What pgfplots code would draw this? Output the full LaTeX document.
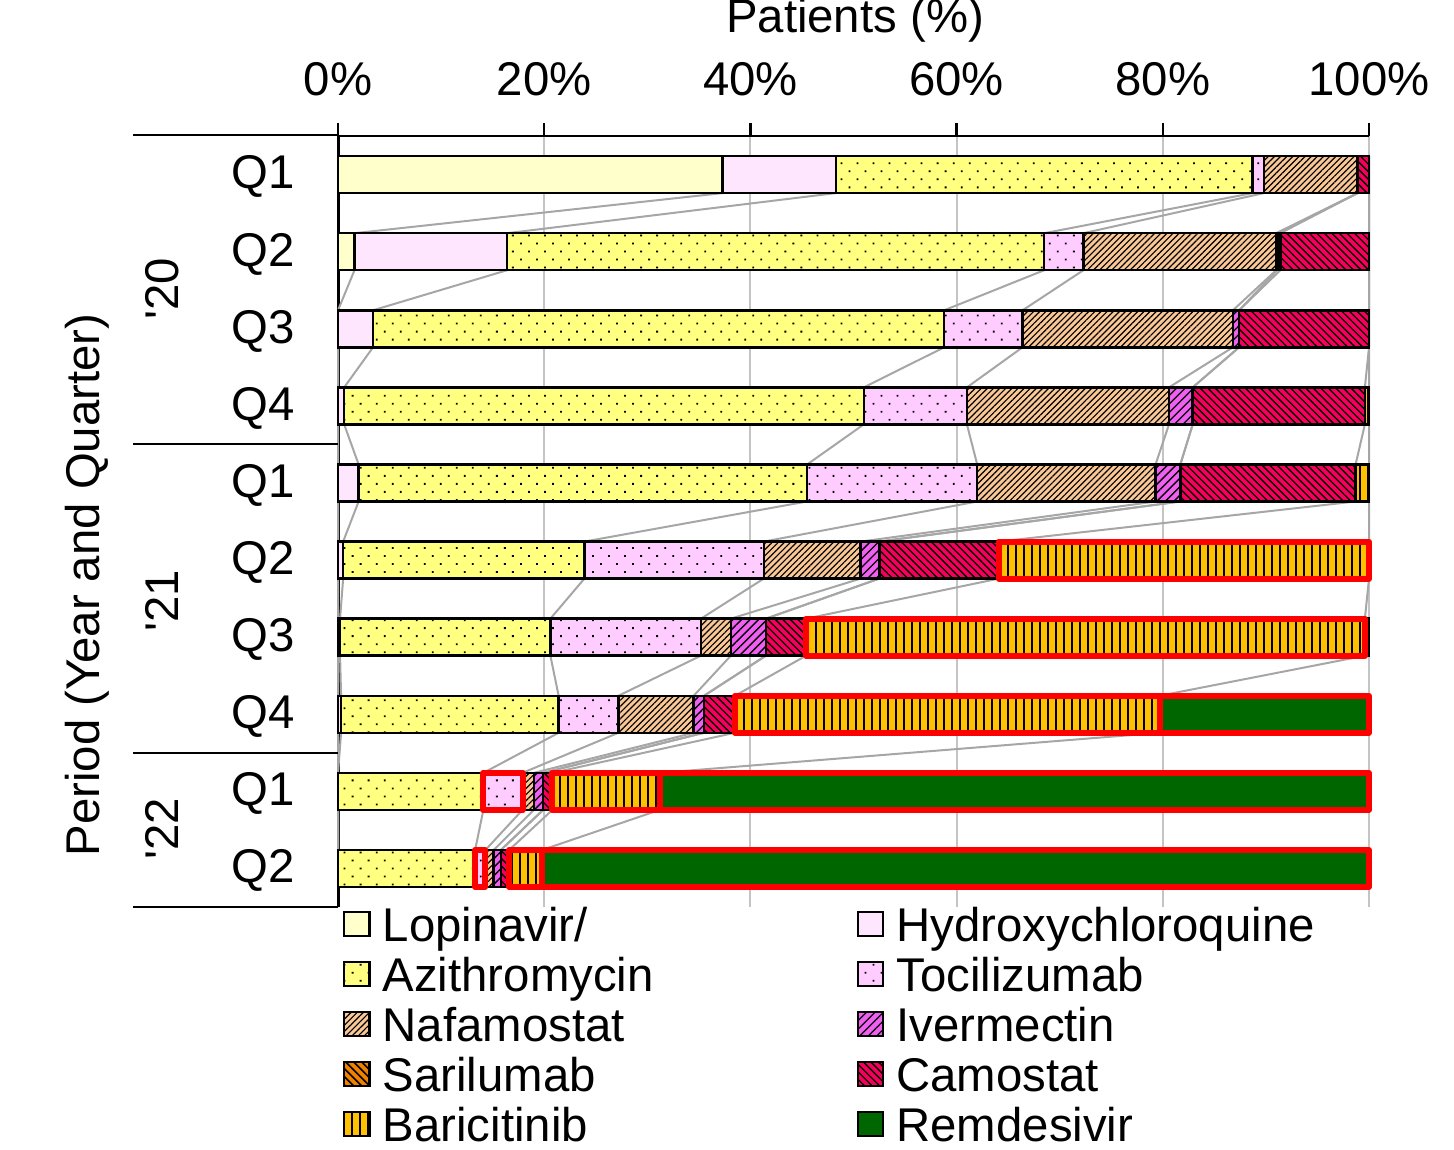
\documentclass[border=0pt]{standalone}
\usepackage{fontspec}
\setmainfont{Liberation Sans}
\usepackage{pgfplots}
\pgfplotsset{compat=1.18}
\usepackage{pgfplotstable}
\usetikzlibrary{patterns.meta}

\definecolor{lopcol}{HTML}{FFFFCC}
\definecolor{hcqcol}{HTML}{FFE6FF}
\definecolor{azicol}{HTML}{FFFF80}
\definecolor{toccol}{HTML}{FFCCFF}
\definecolor{nafcol}{HTML}{FAC896}
\definecolor{ivecol}{HTML}{F060F0}
\definecolor{sarcol}{HTML}{F08000}
\definecolor{camcol}{HTML}{F5005C}
\definecolor{barcol}{HTML}{FFC000}
\definecolor{remcol}{HTML}{006600}
\definecolor{serline}{HTML}{A6A6A6}
\definecolor{gridcol}{HTML}{C4C4C4}

% cumulative end (%) of each drug segment, per period; each period listed twice
% (top and bottom edge of its bar, for the connecting series lines)
\pgfplotstableread{
y  L    H    A    T    N    I    S    C     B     R
9  37.3 48.3 88.7 89.8 98.9 98.9 98.9 100   100   100
9  37.3 48.3 88.7 89.8 98.9 98.9 98.9 100   100   100
8  1.6  16.4 68.5 72.3 91.0 91.1 91.4 100   100   100
8  1.6  16.4 68.5 72.3 91.0 91.1 91.4 100   100   100
7  0    3.4  58.8 66.4 86.8 87.4 87.4 100   100   100
7  0    3.4  58.8 66.4 86.8 87.4 87.4 100   100   100
6  0    0.6  51.0 61.0 80.6 82.9 82.9 99.6  100   100
6  0    0.6  51.0 61.0 80.6 82.9 82.9 99.6  100   100
5  0    2.0  45.5 62.0 79.3 81.7 81.7 98.7  100   100
5  0    2.0  45.5 62.0 79.3 81.7 81.7 98.7  100   100
4  0    0.5  23.9 41.3 50.7 52.5 52.5 64.1  100   100
4  0    0.5  23.9 41.3 50.7 52.5 52.5 64.1  100   100
3  0    0.2  20.6 35.2 38.1 41.5 41.5 45.4  99.6  100
3  0    0.2  20.6 35.2 38.1 41.5 41.5 45.4  99.6  100
2  0    0.3  21.4 27.2 34.5 35.5 35.5 38.5  79.7  100
2  0    0.3  21.4 27.2 34.5 35.5 35.5 38.5  79.7  100
1  0    0    14.1 17.9 19.0 19.9 19.9 20.8  31.2  100
1  0    0    14.1 17.9 19.0 19.9 19.9 20.8  31.2  100
0  0    0    13.3 14.3 15.1 15.8 15.8 16.6  19.8  100
0  0    0    13.3 14.3 15.1 15.8 15.8 16.6  19.8  100
}\cum

\newcommand{\lblfont}{\fontsize{14.2}{17}\selectfont}
\newcommand{\edgey}{{\thisrow{y}+0.24*(1-2*mod(\coordindex,2))}}

\begin{document}
\begin{tikzpicture}[x=0.3pt,y=0.3pt]
\path[use as bounding box] (0,0) rectangle (1454,1149);

\begin{axis}[
  at={(101.4pt,72.6pt)}, anchor=south west,
  width=309.3pt, height=231.3pt, scale only axis,
  xmin=0, xmax=100, ymin=-0.5, ymax=9.5,
  clip=false,
  axis x line*=top, axis y line*=left,
  x axis line style={black, line width=0.8pt},
  y axis line style={black, line width=0.9pt},
  xtick={0,20,...,100},
  xticklabels={0\%,20\%,40\%,60\%,80\%,100\%},
  ytick={0,...,9},
  yticklabels={Q2,Q1,Q4,Q3,Q2,Q1,Q4,Q3,Q2,Q1},
  tick align=outside, major tick length=3.9pt,
  xtick style={black, line width=0.7pt},
  ytick style={draw=none},
  xticklabel style={font=\lblfont, anchor=base, inner sep=0pt, yshift=8.4pt},
  yticklabel style={font=\lblfont, anchor=base east, inner sep=0pt, xshift=-9.0pt, yshift=-4.3pt},
  xmajorgrids, grid style={draw=gridcol, line width=0.6pt},
  seg/.style={xbar, bar width=0.48, bar shift=0pt, draw=black, line width=0.75pt,
    each nth point=2, filter discard warning=false},
  sl/.style={sharp plot, no marks, draw=serline, line width=0.6pt, forget plot},
  rb/.style={sharp plot, no marks, draw=red, line width=1.8pt, line join=round, forget plot},
  legend columns=2,
  reverse legend,
  legend cell align=left,
  legend image code/.code={
    \draw[#1, line width=0.7pt] (0pt,-3.6pt) rectangle (7.6pt,3.6pt);
    \path (11.2pt,0pt);
  },
  legend style={at={(0.0048,0.0104)}, anchor=north west, draw=none, fill=none,
    inner sep=0pt, outer sep=0pt, row sep=0pt, column sep=0pt,
    font=\lblfont,
    nodes={inner sep=0pt, text width=142.2pt, align=left, text height=12.6pt, text depth=2.4pt}},
]
% series lines (drawn beneath the bars)
\addplot[sl] table[x=L, y expr=\edgey] {\cum};
\addplot[sl] table[x=H, y expr=\edgey] {\cum};
\addplot[sl] table[x=A, y expr=\edgey] {\cum};
\addplot[sl] table[x=T, y expr=\edgey] {\cum};
\addplot[sl] table[x=N, y expr=\edgey] {\cum};
\addplot[sl] table[x=I, y expr=\edgey] {\cum};
\addplot[sl] table[x=S, y expr=\edgey] {\cum};
\addplot[sl] table[x=C, y expr=\edgey] {\cum};
\addplot[sl] table[x=B, y expr=\edgey] {\cum};

% bars: each drawn from 0 to its cumulative end, largest first
\addplot[seg, fill=remcol] table[x=R, y=y] {\cum};
\addlegendentry{Remdesivir}
\addplot[seg, fill=barcol, postaction={pattern={Lines[angle=90,distance=2.4pt,line width=0.6pt]}, pattern color=black}] table[x=B, y=y] {\cum};
\addlegendentry{Baricitinib}
\addplot[seg, fill=camcol, postaction={pattern={Lines[angle=-45,distance=1.6pt,line width=0.4pt]}, pattern color=black}] table[x=C, y=y] {\cum};
\addlegendentry{Camostat}
\addplot[seg, fill=sarcol, postaction={pattern={Lines[angle=-45,distance=1.7pt,line width=0.45pt]}, pattern color=black}] table[x=S, y=y] {\cum};
\addlegendentry{Sarilumab}
\addplot[seg, fill=ivecol, postaction={pattern={Lines[angle=45,distance=1.8pt,line width=0.4pt]}, pattern color=black}] table[x=I, y=y] {\cum};
\addlegendentry{Ivermectin}
\addplot[seg, fill=nafcol, postaction={pattern={Lines[angle=45,distance=1.3pt,line width=0.35pt]}, pattern color=black}] table[x=N, y=y] {\cum};
\addlegendentry{Nafamostat}
\addplot[seg, fill=toccol, postaction={pattern={Dots[angle=45,distance=3.4pt,radius=0.38pt]}, pattern color=black}] table[x=T, y=y] {\cum};
\addlegendentry{Tocilizumab}
\addplot[seg, fill=azicol, postaction={pattern={Dots[angle=45,distance=3.4pt,radius=0.38pt]}, pattern color=black}] table[x=A, y=y] {\cum};
\addlegendentry{Azithromycin}
\addplot[seg, fill=hcqcol] table[x=H, y=y] {\cum};
\addlegendentry{Hydroxychloroquine}
\addplot[seg, fill=lopcol] table[x=L, y=y] {\cum};
\addlegendentry{Lopinavir/}

% red outlines
\addplot[rb] coordinates {(64.1,4.24) (100,4.24) (100,3.76) (64.1,3.76)} --cycle;
\addplot[rb] coordinates {(45.4,3.24) (99.6,3.24) (99.6,2.76) (45.4,2.76)} --cycle;
\addplot[rb] coordinates {(38.5,2.24) (79.7,2.24) (79.7,1.76) (38.5,1.76)} --cycle;
\addplot[rb] coordinates {(79.7,2.24) (100,2.24) (100,1.76) (79.7,1.76)} --cycle;
\addplot[rb] coordinates {(14.1,1.24) (17.9,1.24) (17.9,0.76) (14.1,0.76)} --cycle;
\addplot[rb] coordinates {(20.8,1.24) (31.2,1.24) (31.2,0.76) (20.8,0.76)} --cycle;
\addplot[rb] coordinates {(31.2,1.24) (100,1.24) (100,0.76) (31.2,0.76)} --cycle;
\addplot[rb] coordinates {(13.3,0.24) (14.3,0.24) (14.3,-0.24) (13.3,-0.24)} --cycle;
\addplot[rb] coordinates {(16.6,0.24) (19.8,0.24) (19.8,-0.24) (16.6,-0.24)} --cycle;
\addplot[rb] coordinates {(19.8,0.24) (100,0.24) (100,-0.24) (19.8,-0.24)} --cycle;
\end{axis}

% year group separators
\draw[black, line width=0.8pt] (133,1014) -- (338,1014);
\draw[black, line width=0.8pt] (133,705) -- (338,705);
\draw[black, line width=0.8pt] (133,396) -- (338,396);
\draw[black, line width=0.8pt] (133,242) -- (338,242);

% year labels
\node[rotate=90, anchor=base, inner sep=0pt, font=\lblfont] at (178,860) {\textquotesingle 20};
\node[rotate=90, anchor=base, inner sep=0pt, font=\lblfont] at (178,548) {\textquotesingle 21};
\node[rotate=90, anchor=base, inner sep=0pt, font=\lblfont] at (178,320) {\textquotesingle 22};

% axis titles
\node[rotate=90, anchor=base, inner sep=0pt, font=\lblfont] at (99,564) {Period (Year and Quarter)};
\node[anchor=base, inner sep=0pt, font=\lblfont] at (855,1116) {Patients (\%)};
\end{tikzpicture}
\end{document}
